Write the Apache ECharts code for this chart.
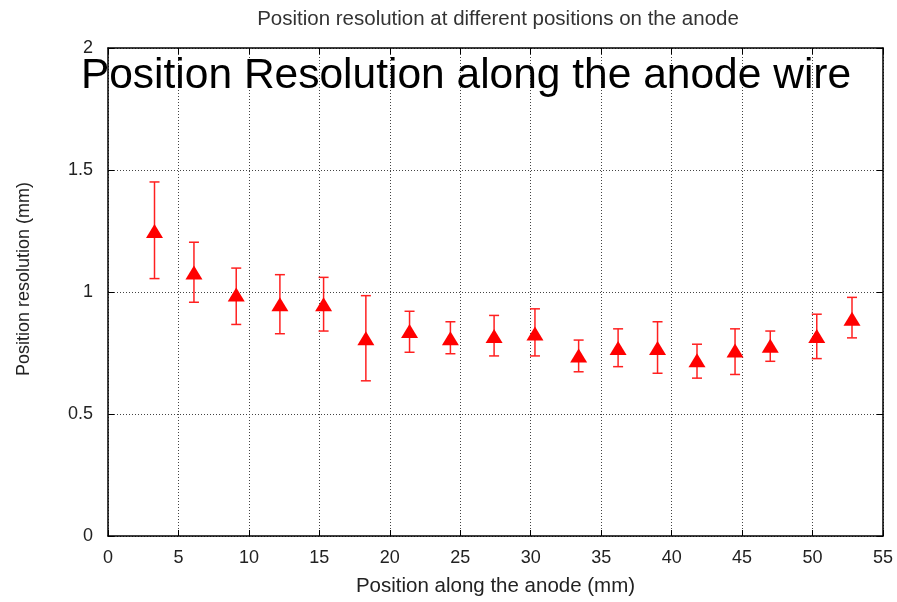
<!DOCTYPE html>
<html>
<head>
<meta charset="utf-8">
<script src="https://cdn.jsdelivr.net/npm/echarts@6/dist/echarts.min.js"></script>
<style>
  html, body { margin: 0; padding: 0; background: #fff; }
  #chart { width: 897px; height: 602px; }
</style>
</head>
<body>
<div id="chart"></div>
<script>
// position along the anode (mm)
var positions = [3.3, 6.1, 9.1, 12.2, 15.3, 18.3, 21.4, 24.3, 27.4, 30.3, 33.4, 36.2, 39.0, 41.8, 44.5, 47.0, 50.3, 52.8];
// resolution (mm)
var resolution = [1.25, 1.08, 0.99, 0.95, 0.95, 0.81, 0.84, 0.81, 0.82, 0.83, 0.74, 0.77, 0.77, 0.72, 0.76, 0.78, 0.82, 0.89];
var errLow = [1.055, 0.958, 0.867, 0.829, 0.840, 0.636, 0.753, 0.747, 0.738, 0.738, 0.673, 0.694, 0.667, 0.647, 0.662, 0.716, 0.727, 0.812];
var errHigh = [1.451, 1.204, 1.098, 1.071, 1.060, 0.985, 0.921, 0.878, 0.904, 0.931, 0.803, 0.849, 0.878, 0.786, 0.849, 0.840, 0.909, 0.978];

var dom = document.getElementById('chart');
var myChart = echarts.init(dom, null, { renderer: 'canvas' });

var points = positions.map(function (x, i) { return [x, resolution[i]]; });
var bars = positions.map(function (x, i) { return [x, errLow[i], errHigh[i]]; });

var tickFont = { fontFamily: 'Liberation Sans', fontSize: 18, color: '#222' };

var option = {
    animation: false,
    title: [{
        text: 'Position resolution at different positions on the anode',
        left: 493,
        top: 4,
        textAlign: 'center',
        textStyle: { fontFamily: 'Liberation Sans', fontSize: 20.5, fontWeight: 'normal', color: '#333' }
    }, {
        text: 'Position Resolution along the anode wire',
        left: 461,
        top: 50,
        textAlign: 'center',
        textStyle: { fontFamily: 'Liberation Sans', fontSize: 42.5, fontWeight: 'normal', color: '#000' }
    }],
    grid: { left: 108, right: 14, top: 48, bottom: 61 },
    xAxis: [{
        type: 'value',
        min: 0, max: 55, interval: 5,
        name: 'Position along the anode (mm)',
        nameLocation: 'middle',
        nameGap: 40,
        nameTextStyle: { fontFamily: 'Liberation Sans', fontSize: 20.5, color: '#222' },
        axisLine: { lineStyle: { color: '#000', width: 1.5 } },
        axisTick: { inside: true, length: 6, lineStyle: { color: '#000' } },
        axisLabel: Object.assign({ margin: 13 }, tickFont),
        splitLine: { show: true, lineStyle: { color: '#444', type: [1, 2], width: 1 } }
    }, {
        type: 'value',
        position: 'top',
        min: 0, max: 55, interval: 5,
        axisLine: { show: true, onZero: false, lineStyle: { color: '#000', width: 1.5 } },
        axisTick: { show: true, inside: true, length: 6, lineStyle: { color: '#000' } },
        axisLabel: { show: false },
        splitLine: { show: false }
    }],
    yAxis: [{
        type: 'value',
        min: 0, max: 2, interval: 0.5,
        name: 'Position resolution (mm)',
        nameLocation: 'middle',
        nameGap: 75,
        nameTextStyle: { fontFamily: 'Liberation Sans', fontSize: 18, color: '#222', padding: [0, 0, 0, 26] },
        axisLine: { show: true, lineStyle: { color: '#000', width: 1.5 } },
        axisTick: { show: true, inside: true, length: 6, lineStyle: { color: '#000' } },
        axisLabel: Object.assign({ margin: 15 }, tickFont),
        splitLine: { show: true, lineStyle: { color: '#444', type: [1, 2], width: 1 } }
    }, {
        type: 'value',
        position: 'right',
        min: 0, max: 2, interval: 0.5,
        axisLine: { show: true, onZero: false, lineStyle: { color: '#000', width: 1.5 } },
        axisTick: { show: true, inside: true, length: 6, lineStyle: { color: '#000' } },
        axisLabel: { show: false },
        splitLine: { show: false }
    }],
    series: [{
        type: 'custom',
        data: bars,
        z: 2,
        renderItem: function (params, api) {
            var x = api.value(0);
            var lo = api.coord([x, api.value(1)]);
            var hi = api.coord([x, api.value(2)]);
            var w = 5;
            var style = { stroke: '#ff2020', lineWidth: 1.5 };
            return {
                type: 'group',
                children: [
                    { type: 'line', shape: { x1: lo[0], y1: lo[1], x2: hi[0], y2: hi[1] }, style: style },
                    { type: 'line', shape: { x1: lo[0] - w, y1: lo[1], x2: lo[0] + w, y2: lo[1] }, style: style },
                    { type: 'line', shape: { x1: hi[0] - w, y1: hi[1], x2: hi[0] + w, y2: hi[1] }, style: style }
                ]
            };
        }
    }, {
        type: 'scatter',
        data: points,
        z: 3,
        symbol: 'triangle',
        symbolSize: [17, 14],
        itemStyle: { color: '#ff0000', opacity: 1 }
    }]
};

myChart.setOption(option);
window.addEventListener('resize', myChart.resize);
</script>
</body>
</html>
